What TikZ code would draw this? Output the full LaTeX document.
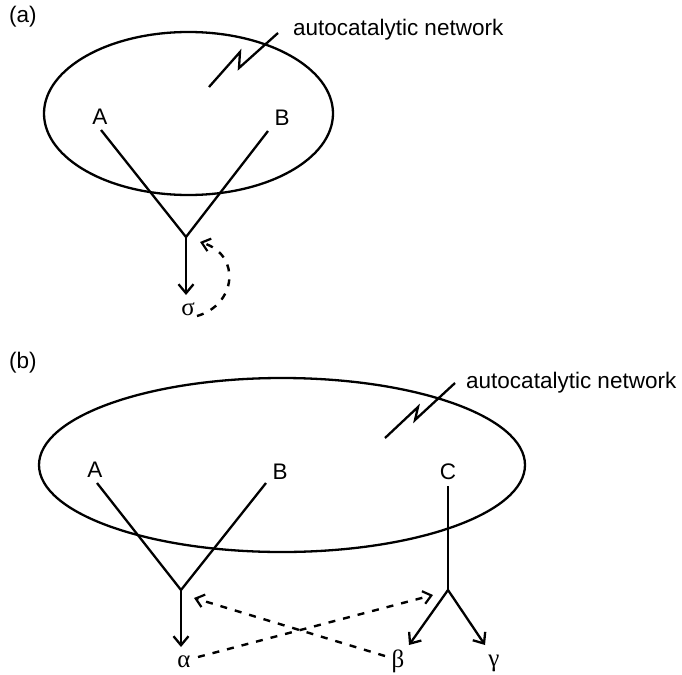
\documentclass[tikz,border=0pt]{standalone}
\usepackage{fontspec}
\setmainfont{Liberation Sans}
\newfontfamily\grk{Liberation Serif}
\usetikzlibrary{arrows.meta,shapes.geometric}
\begin{document}
\begin{tikzpicture}[x=1pt,y=-1pt,
  ln/.style={line width=2.3pt},
  lbl/.style={font=\fontsize{22.5}{27}\selectfont, inner sep=0pt},
  gk/.style={font=\grk\fontsize{25}{29}\selectfont, inner sep=0pt},
  arr/.style={ln,-{Straight Barb[length=9pt,width=15pt]}},
  darr/.style={line width=2.4pt, dash pattern=on 7pt off 8pt, -{Straight Barb[length=8pt,width=13pt,line width=2.2pt]}},
  ell/.style={draw, ellipse, ln, inner sep=0pt}]
\useasboundingbox (0,0) rectangle (682,674);
% ---------- panel (a)
\node[lbl, anchor=west] (la) at (9,17) {(a)};
\node[lbl, anchor=west] (neta) at (293,30) {autocatalytic network};
\node[ell, minimum width=289pt, minimum height=163pt] (ella) at (188.5,113.5) {};
\node[lbl] (A1) at (100,117) {A};
\node[lbl] (B1) at (282,118) {B};
\coordinate (a1s) at (101,130);
\coordinate (b1s) at (268,131);
\coordinate (j1) at (186,237);
\coordinate (t1) at (186,295);
\node[gk] (sig) at (188,309) {σ};
\coordinate (d1s) at (197,316);
\coordinate (d1e) at (200,242);
\coordinate (z1a) at (209,87);
\coordinate (z1b) at (240,52);
\coordinate (z1c) at (239,68);
\coordinate (z1d) at (278,33);
\draw[ln] (z1a) -- (z1b) -- (z1c) -- (z1d);
\draw[ln] (a1s) -- (j1) -- (b1s);
\draw[arr] (j1) -- (t1);
\draw[darr] (d1s) .. controls (236,305) and (242,255) .. (d1e);
% ---------- panel (b)
\node[lbl, anchor=west] (lb) at (9,363) {(b)};
\node[lbl, anchor=west] (netb) at (466,383) {autocatalytic network};
\node[ell, minimum width=486pt, minimum height=174pt] (ellb) at (282,465) {};
\node[lbl] (A2) at (95,470) {A};
\node[lbl] (B2) at (280,472) {B};
\node[lbl] (C2) at (448,472) {C};
\coordinate (a2s) at (97,483);
\coordinate (b2s) at (266,483);
\coordinate (c2s) at (448,486);
\coordinate (j2) at (181,590);
\coordinate (j3) at (448,590);
\coordinate (t2) at (181,647);
\coordinate (t3) at (409,645);
\coordinate (t4) at (485,645);
\node[gk] (al) at (184,662) {α};
\node[gk] (be) at (398,661) {β};
\node[gk] (ga) at (494,663) {γ};
\coordinate (d2s) at (198,657);
\coordinate (d2e) at (433,595);
\coordinate (d3s) at (385,656);
\coordinate (d3e) at (194,598);
\coordinate (z2a) at (385,438);
\coordinate (z2b) at (418,407);
\coordinate (z2c) at (415,420);
\coordinate (z2d) at (455,383);
\draw[ln] (z2a) -- (z2b) -- (z2c) -- (z2d);
\draw[ln] (a2s) -- (j2) -- (b2s);
\draw[ln] (c2s) -- (j3);
\draw[arr] (j2) -- (t2);
\draw[arr] (j3) -- (t3);
\draw[arr] (j3) -- (t4);
\draw[darr] (d2s) -- (d2e);
\draw[darr] (d3s) -- (d3e);
\end{tikzpicture}
\end{document}
